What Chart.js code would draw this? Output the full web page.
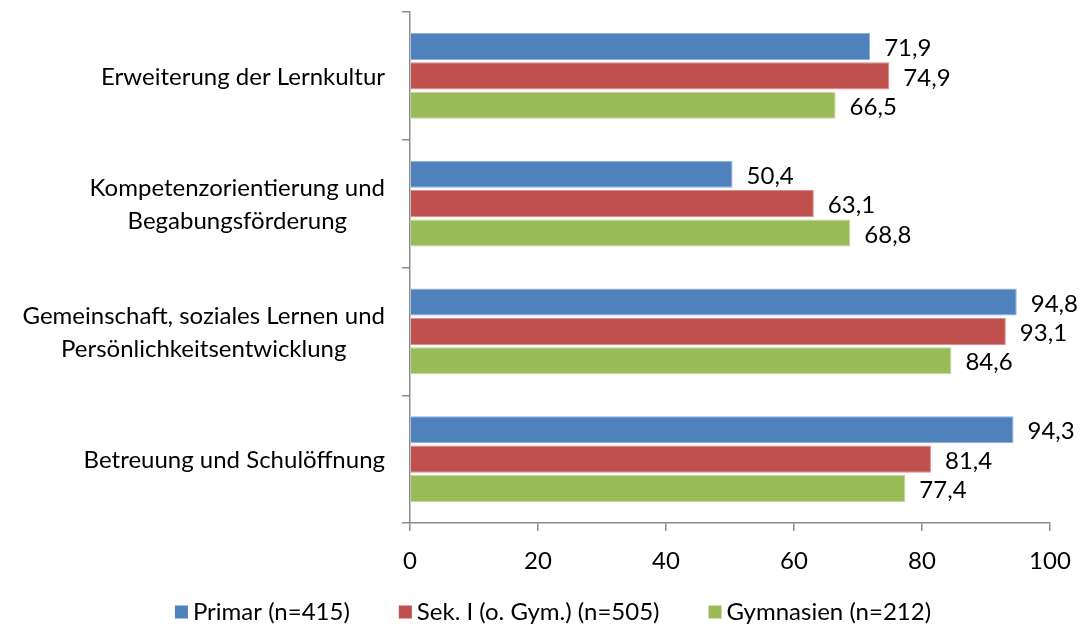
<!DOCTYPE html>
<html>
<head>
<meta charset="utf-8">
<script src="https://cdn.jsdelivr.net/npm/chart.js@4/dist/chart.umd.min.js"></script>
<style>
  html, body { margin: 0; padding: 0; background: #fff; }
  #wrap { width: 1088px; height: 627px; }
</style>
</head>
<body>
<div id="wrap"><canvas id="chart"></canvas></div>
<script>
const CATEGORIES = [
  ["Erweiterung der Lernkultur"],
  ["Kompetenzorientierung und", "Begabungsförderung"],
  ["Gemeinschaft, soziales Lernen und", "Persönlichkeitsentwicklung"],
  ["Betreuung und Schulöffnung"],
];
const PRIMAR = [71.9, 50.4, 94.8, 94.3];
const SEK_I = [74.9, 63.1, 93.1, 81.4];
const GYMNASIEN = [66.5, 68.8, 84.6, 77.4];
const SERIES_NAMES = ["Primar (n=415)", "Sek. I (o. Gym.) (n=505)", "Gymnasien (n=212)"];
const X_TICKS = [0, 20, 40, 60, 80, 100];

const COLORS = { blue: "#4f81bd", red: "#c0504d", green: "#9bbb59" };
const EDGES = { blue: "#8eaedb", red: "#dc8e8c", green: "#c3d99a" };
const FONT = "Lato, 'Open Sans', sans-serif";
const FONT_SIZE = 24;
const AXIS_GREY = "#8c8c8c";

function fmt(v) {
  return v.toFixed(1).replace(".", ",");
}

// value labels at the bar ends
const valueLabels = {
  id: "valueLabels",
  afterDatasetsDraw(chart) {
    const ctx = chart.ctx;
    ctx.save();
    ctx.font = `${FONT_SIZE}px ${FONT}`;
    ctx.fillStyle = "#000";
    ctx.textBaseline = "middle";
    ctx.textAlign = "left";
    chart.data.datasets.forEach((ds, i) => {
      chart.getDatasetMeta(i).data.forEach((bar, j) => {
        ctx.fillText(fmt(ds.data[j]), bar.x + 14, bar.y + 2);
      });
    });
    ctx.restore();
  },
};

// category labels: block right aligned, lines centered inside the block
const categoryLabels = {
  id: "categoryLabels",
  afterDraw(chart) {
    const ctx = chart.ctx;
    const y = chart.scales.y;
    const right = chart.chartArea.left - 25;
    ctx.save();
    ctx.font = `${FONT_SIZE}px ${FONT}`;
    ctx.fillStyle = "#000";
    ctx.textBaseline = "middle";
    ctx.textAlign = "center";
    const lineH = 33;
    CATEGORIES.forEach((lines, i) => {
      const cy = y.getPixelForValue(i) + 1;
      const w = Math.max(...lines.map((l) => ctx.measureText(l).width));
      const cx = right - w / 2;
      lines.forEach((l, k) => {
        ctx.fillText(l, cx, cy + (k - (lines.length - 1) / 2) * lineH);
      });
    });
    ctx.restore();
  },
};

// bottom legend with wide gaps between entries (Excel style)
const bottomLegend = {
  id: "bottomLegend",
  afterDraw(chart) {
    const ctx = chart.ctx;
    const box = 13;
    const boxGap = 5;
    const itemGap = 49;
    const cy = 612;
    ctx.save();
    ctx.font = `${FONT_SIZE}px ${FONT}`;
    ctx.textBaseline = "middle";
    ctx.textAlign = "left";
    const items = chart.data.datasets.map((ds) => ({
      text: ds.label,
      color: ds.backgroundColor,
      w: box + boxGap + ctx.measureText(ds.label).width,
    }));
    const total = items.reduce((s, it) => s + it.w, 0) + itemGap * (items.length - 1);
    let x = 553 - total / 2;
    items.forEach((it) => {
      ctx.fillStyle = it.color;
      ctx.fillRect(x, cy - box / 2, box, box);
      ctx.fillStyle = "#000";
      ctx.fillText(it.text, x + box + boxGap, cy);
      x += it.w + itemGap;
    });
    ctx.restore();
  },
};

new Chart(document.getElementById("chart"), {
  type: "bar",
  data: {
    labels: CATEGORIES,
    datasets: [
      { label: SERIES_NAMES[0], data: PRIMAR, backgroundColor: COLORS.blue, borderColor: EDGES.blue, borderWidth: 1 },
      { label: SERIES_NAMES[1], data: SEK_I, backgroundColor: COLORS.red, borderColor: EDGES.red, borderWidth: 1 },
      { label: SERIES_NAMES[2], data: GYMNASIEN, backgroundColor: COLORS.green, borderColor: EDGES.green, borderWidth: 1 },
    ],
  },
  options: {
    indexAxis: "y",
    responsive: true,
    maintainAspectRatio: false,
    animation: false,
    categoryPercentage: 0.69,
    barPercentage: 0.92,
    layout: { padding: { top: 12, right: 38, left: 0, bottom: 42 } },
    plugins: {
      tooltip: { enabled: false },
      legend: { display: false },
    },
    scales: {
      x: {
        min: 0,
        max: 100,
        afterBuildTicks(scale) {
          scale.ticks = X_TICKS.map((v) => ({ value: v }));
        },
        afterFit(scale) {
          scale.height = 62;
        },
        border: { display: true, color: AXIS_GREY, width: 1.5 },
        grid: { display: true, drawOnChartArea: false, drawTicks: true, tickLength: 8, color: AXIS_GREY, lineWidth: 1.5 },
        ticks: { font: { family: FONT, size: FONT_SIZE }, color: "#000", padding: 16 },
      },
      y: {
        afterFit(scale) {
          scale.width = 410;
        },
        border: { display: true, color: AXIS_GREY, width: 1.5 },
        grid: { display: true, offset: true, drawOnChartArea: false, drawTicks: true, tickLength: 8, color: AXIS_GREY, lineWidth: 1.5 },
        ticks: { display: false },
      },
    },
  },
  plugins: [valueLabels, categoryLabels, bottomLegend],
});
</script>
</body>
</html>
